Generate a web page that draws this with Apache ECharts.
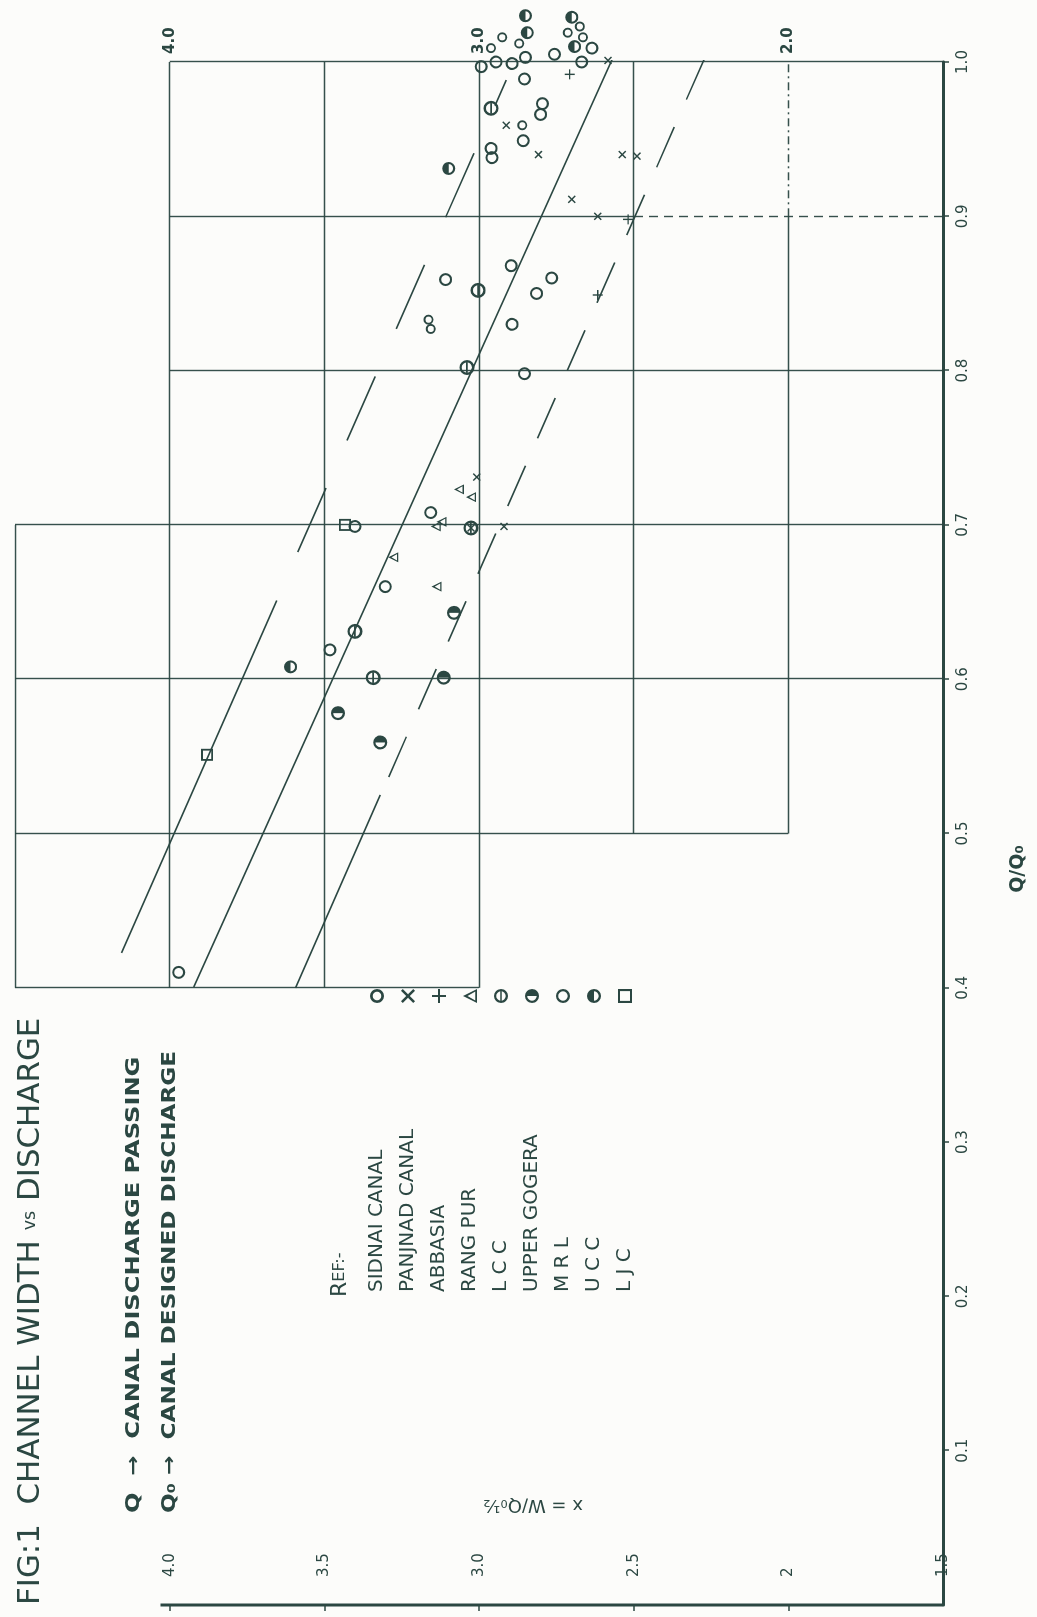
<!DOCTYPE html>
<html>
<head>
<meta charset="utf-8">
<script src="https://cdn.jsdelivr.net/npm/echarts@6/dist/echarts.min.js"></script>
<style>
  html, body { margin: 0; padding: 0; width: 1037px; height: 1617px; overflow: hidden; background: #fcfcfa; }
  /* the sheet is laid out landscape and turned a quarter turn onto the portrait page */
  #sheet { position: absolute; left: 0; top: 0; width: 1617px; height: 1037px;
           transform-origin: 0 0; transform: translate(0, 1617px) rotate(-90deg); }
</style>
</head>
<body>
<div id="sheet"></div>
<script>
// ---- axes -------------------------------------------------------------
const qTicks = [0.1, 0.2, 0.3, 0.4, 0.5, 0.6, 0.7, 0.8, 0.9, 1.0];      // Q/Q0
const wTicks = [2.0, 2.5, 3.0, 3.5, 4.0];                               // W/Q0^1/2 ticks
const wLabels = [1.5, 2.0, 2.5, 3.0, 3.5, 4.0];
const wTopLabels = [2.0, 3.0, 4.0];

// ---- ruled grid (segments of constant Q or constant W) -----------------
const qRules = [ // [Q, W from, W to]
  [1.0, 1.5, 4.0], [0.9, 2.5, 4.0], [0.8, 1.5, 4.0], [0.7, 1.5, 4.5],
  [0.6, 1.5, 4.5], [0.5, 2.0, 4.5], [0.4, 3.0, 4.5]
];
const qRulesDashed = [[0.9, 1.5, 2.5]];
const wRules = [ // [W, Q from, Q to]
  [4.5, 0.4, 0.7], [4.0, 0.4, 1.0], [3.5, 0.4, 1.0], [3.0, 0.4, 1.0],
  [2.5, 0.5, 1.0], [2.0, 0.5, 0.9]
];
const wRulesDashed = [[2.0, 0.9, 1.0]];
const wAxisSpan = [[0, 1.5], [0, 4.03]];

// ---- observations [Q/Q0, W/Q0^1/2] -----------------------------------
const sidnai = [[1.016,2.925],[1.009,2.961],[1.012,2.870],[1.016,2.664],[1.019,2.713],
  [1.023,2.674],[0.959,2.860],[0.833,3.163],[0.827,3.156]];
const panjnad = [[1.001,2.583],[0.959,2.912],[0.940,2.808],[0.911,2.700],[0.900,2.616],
  [0.940,2.537],[0.939,2.489],[0.731,3.007],[0.698,3.026],[0.699,2.919]];
const abbasia = [[0.992,2.707],[0.898,2.518],[0.849,2.616]];
const rangpur = [[0.723,3.065],[0.718,3.026],[0.699,3.140],[0.702,3.121],[0.679,3.277],[0.660,3.137]];
const lcc = [[0.970,2.961],[0.852,3.003],[0.802,3.039],[0.631,3.401],[0.601,3.342],[0.698,3.026]];
const upperGogera = [[0.643,3.081],[0.601,3.114],[0.578,3.456],[0.559,3.319]];
const mrl = [[0.868,2.896],[0.859,3.108],[0.860,2.765],[0.850,2.814],[0.830,2.893],[0.798,2.853],
  [0.708,3.156],[0.699,3.401],[0.660,3.303],[0.619,3.482],[0.410,3.971],[0.973,2.795],
  [0.966,2.801],[0.949,2.857],[0.944,2.961],[0.938,2.958],[1.000,2.945],[0.997,2.993],
  [0.999,2.893],[1.003,2.850],[0.989,2.853],[1.005,2.756],[1.009,2.635],[1.000,2.668]];
const ucc = [[0.931,3.098],[0.608,3.609],[1.029,2.700],[1.019,2.844],[1.010,2.691],[1.030,2.850]];
const ljc = [[0.700,3.433],[0.551,3.879]];

// ---- fitted band: upper limit, mean, lower limit ------------------------
const upperSolid = [[0.4226,4.156],[0.651,3.654]];
const upperDashed = [[0.6824,3.586],[0.9883,2.912]];
const meanLine = [[0.4005,3.922],[1.0175,2.534]];
const lowerSolid = [[0.3999,3.593],[0.525,3.319]];
const lowerDashed = [[0.5366,3.292],[1.0188,2.235]];

const legendNames = ['SIDNAI CANAL', 'PANJNAD CANAL', 'ABBASIA', 'RANG PUR', 'L C C',
  'UPPER GOGERA', 'M R L', 'U C C', 'L J C'];

const INK = '#2b4742';
const FONT = 'DejaVu Sans';

// marker outlines (drawn in a 100x100 box)
const RING = 'M50,0 A50,50 0 1,1 50,100 A50,50 0 1,1 50,0 Z M50,16 A34,34 0 1,0 50,84 A34,34 0 1,0 50,16 Z';
const THIN_RING = 'M50,0 A50,50 0 1,1 50,100 A50,50 0 1,1 50,0 Z M50,19 A31,31 0 1,0 50,81 A31,31 0 1,0 50,19 Z';
const SYM = {
  small: 'path://' + THIN_RING,
  cross: 'path://M0,13 L13,0 L100,87 L87,100 Z M87,0 L100,13 L13,100 L0,87 Z',
  plus: 'path://M43,0 L57,0 L57,43 L100,43 L100,57 L57,57 L57,100 L43,100 L43,57 L0,57 L0,43 L43,43 Z',
  tri: 'path://M50,0 L100,100 L0,100 Z M50,32 L18,87 L82,87 Z',
  theta: 'path://' + RING + ' M17,44 L83,44 L83,56 L17,56 Z',
  rightHalf: 'path://' + RING + ' M50,16 A34,34 0 0,1 50,84 Z',
  ring: 'path://' + RING,
  topHalf: 'path://' + RING + ' M16,50 A34,34 0 0,1 84,50 Z',
  square: 'path://M0,0 L100,0 L100,100 L0,100 Z M15,15 L15,85 L85,85 L85,15 Z'
};

function segs(rows, vertical) {
  return rows.map(r => ({ coords: vertical ? [[r[1], r[0]], [r[2], r[0]]] : [[r[0], r[1]], [r[0], r[2]]] }));
}
function rules(data, width, type) {
  return { type: 'lines', coordinateSystem: 'cartesian2d', silent: true, polyline: false,
           data: data, symbol: 'none', lineStyle: { color: INK, width: width, type: type, opacity: 0.95 } };
}
function fit(data, type) {
  return { type: 'line', data: data, symbol: 'none', silent: true, clip: false,
           lineStyle: { color: INK, width: 1.6, type: type } };
}
function obs(name, data, symbol, size) {
  return { type: 'scatter', name: name, data: data, symbol: symbol, symbolSize: size, clip: false,
           itemStyle: { color: INK, opacity: 1 }, z: 5 };
}

const chart = echarts.init(document.getElementById('sheet'), null, { renderer: 'canvas' });
chart.setOption({
  animation: false,
  backgroundColor: '#fcfcfa',
  grid: { left: 12, right: 62, top: 15, bottom: 94 },
  xAxis: {
    type: 'value', min: 0, max: 1.0,
    splitLine: { show: false },
    axisLine: { lineStyle: { color: INK, width: 3 } },
    axisTick: { customValues: qTicks, length: 6, lineStyle: { color: INK, width: 1.5 } },
    axisLabel: { customValues: qTicks, formatter: v => v.toFixed(1), color: INK, fontSize: 15,
                 fontFamily: FONT, margin: 13 }
  },
  yAxis: [{
    type: 'value', min: 1.5, max: 4.5, position: 'left',
    splitLine: { show: false },
    axisLine: { show: false },
    axisTick: { customValues: wTicks, length: 6, lineStyle: { color: INK, width: 1.5 } },
    axisLabel: { inside: true, customValues: wLabels, color: INK, fontSize: 15, fontFamily: FONT, margin: 28,
                 formatter: v => (v === 2 ? '2' : v.toFixed(1)) }
  }, {
    type: 'value', min: 1.5, max: 4.5, position: 'right',
    splitLine: { show: false }, axisLine: { show: false }, axisTick: { show: false },
    axisLabel: { customValues: wTopLabels, color: INK, fontSize: 15, fontFamily: FONT, margin: 8,
                 fontWeight: 'bold', formatter: v => v.toFixed(1) }
  }],
  legend: {
    orient: 'vertical', left: 320, top: 361, align: 'right',
    itemWidth: 14, itemHeight: 14, itemGap: 9,
    selectedMode: false,
    formatter: n => '{n|' + n + '}',
    textStyle: { color: INK, fontSize: 20, fontFamily: FONT, lineHeight: 22,
                 rich: { n: { width: 284, align: 'left', fontSize: 20, fontFamily: FONT, color: INK, lineHeight: 22 } } },
    data: legendNames
  },
  graphic: [
    { type: 'text', x: 12, y: 31, scaleX: 1.03, style: { text: '{a|FIG:1  CHANNEL WIDTH }{b|vs}{a| DISCHARGE}', verticalAlign: 'middle',
      rich: { a: { fontSize: 30, fontFamily: FONT, fill: INK }, b: { fontSize: 17, fontFamily: FONT, fill: INK } } } },
    { type: 'text', x: 104, y: 134, scaleX: 1.27, style: { text: 'Q  →  CANAL DISCHARGE PASSING', verticalAlign: 'middle',
      fontSize: 19, fontWeight: 'bold', fontFamily: FONT, fill: INK } },
    { type: 'text', x: 104, y: 170, scaleX: 1.22, style: { text: 'Q₀ →  CANAL DESIGNED DISCHARGE', verticalAlign: 'middle',
      fontSize: 19, fontWeight: 'bold', fontFamily: FONT, fill: INK } },
    { type: 'text', x: 320, y: 340, style: { text: '{a|R}{b|EF:-}', verticalAlign: 'middle',
      rich: { a: { fontSize: 22, fontFamily: FONT, fill: INK }, b: { fontSize: 16, fontFamily: FONT, fill: INK } } } },
    { type: 'text', x: 112, y: 533, rotation: Math.PI / 2, style: { text: 'x = W/Q₀½', align: 'center',
      verticalAlign: 'middle', fontSize: 18, fontFamily: FONT, fill: INK } },
    { type: 'text', x: 748, y: 1018, style: { text: 'Q/Q₀', align: 'center', verticalAlign: 'middle',
      fontSize: 19, fontWeight: 'bold', fontFamily: FONT, fill: INK } }
  ],
  series: [
    rules(segs(qRules, false), 1.4, 'solid'),
    rules(segs(qRulesDashed, false), 1.4, [9, 6]),
    rules(segs(wRules, true), 1.4, 'solid'),
    rules(segs(wRulesDashed, true), 1.4, [8, 4, 2, 4]),
    { type: 'line', data: wAxisSpan, symbol: 'none', silent: true, lineStyle: { color: INK, width: 3 } },
    fit(upperSolid, 'solid'),
    fit(upperDashed, [70, 52]),
    fit(meanLine, 'solid'),
    fit(lowerSolid, 'solid'),
    fit(lowerDashed, [44, 30]),
    obs(legendNames[0], sidnai, SYM.small, 10),
    obs(legendNames[1], panjnad, SYM.cross, 8),
    obs(legendNames[2], abbasia, SYM.plus, 10),
    obs(legendNames[3], rangpur, SYM.tri, 10),
    obs(legendNames[4], lcc, SYM.theta, 15),
    obs(legendNames[5], upperGogera, SYM.rightHalf, 14),
    obs(legendNames[6], mrl, SYM.ring, 13),
    obs(legendNames[7], ucc, SYM.topHalf, 13),
    obs(legendNames[8], ljc, SYM.square, 12)
  ]
});
</script>
</body>
</html>
